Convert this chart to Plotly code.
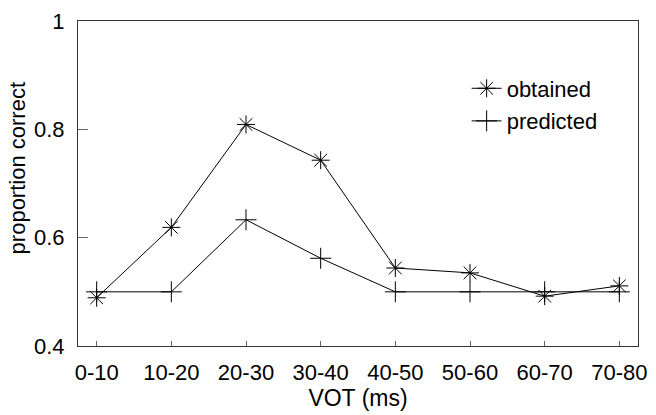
import plotly.graph_objects as go

categories = ["0-10", "10-20", "20-30", "30-40", "40-50", "50-60", "60-70", "70-80"]
obtained = [0.489, 0.619, 0.809, 0.743, 0.544, 0.535, 0.492, 0.511]
predicted = [0.5, 0.5, 0.633, 0.562, 0.5, 0.5, 0.5, 0.5]
y_ticks = [0.4, 0.6, 0.8, 1.0]
y_ticklabels = ["0.4", "0.6", "0.8", "1"]

FONT = "Arial"

fig = go.Figure()
fig.add_trace(go.Scatter(
    x=categories, y=obtained, mode="lines+markers", name="obtained",
    legendgroup="a",
    line=dict(color="black", width=1),
    marker=dict(symbol="asterisk-open", size=15, color="black",
                line=dict(color="black", width=1)),
))
fig.add_trace(go.Scatter(
    x=categories, y=predicted, mode="lines+markers", name="predicted",
    legendgroup="b",
    line=dict(color="black", width=1),
    marker=dict(symbol="cross-thin-open", size=15, color="black",
                line=dict(color="black", width=1)),
))

fig.update_layout(
    width=656, height=415,
    margin=dict(l=78, r=9, t=15, b=69),
    paper_bgcolor="white", plot_bgcolor="white",
    font=dict(family=FONT, size=22, color="black"),
    showlegend=True,
    legend=dict(x=0.694, y=0.857, xanchor="left", yanchor="top",
                bgcolor="rgba(0,0,0,0)", borderwidth=0,
                tracegroupgap=1, font=dict(size=22)),
    xaxis=dict(
        type="category", range=[-0.25, 7.25],
        showline=True, linecolor="#333", linewidth=1, mirror=True,
        ticks="inside", ticklen=5, tickcolor="#666", tickwidth=1,
        ticklabelstandoff=7,
        showgrid=False, zeroline=False,
        title=dict(text="VOT (ms)", font=dict(size=23), standoff=4),
    ),
    yaxis=dict(
        range=[0.4, 1.0], tickvals=y_ticks, ticktext=y_ticklabels,
        showline=True, linecolor="#333", linewidth=1, mirror=True,
        ticks="inside", ticklen=10, tickcolor="#666", tickwidth=1,
        ticklabelstandoff=8,
        showgrid=False, zeroline=False,
    ),
    annotations=[dict(
        text="proportion correct", xref="paper", yref="paper",
        x=-0.108, y=0.545, xanchor="center", yanchor="middle",
        textangle=-90, showarrow=False, font=dict(size=22),
    )],
)

fig.write_html("out.html")
